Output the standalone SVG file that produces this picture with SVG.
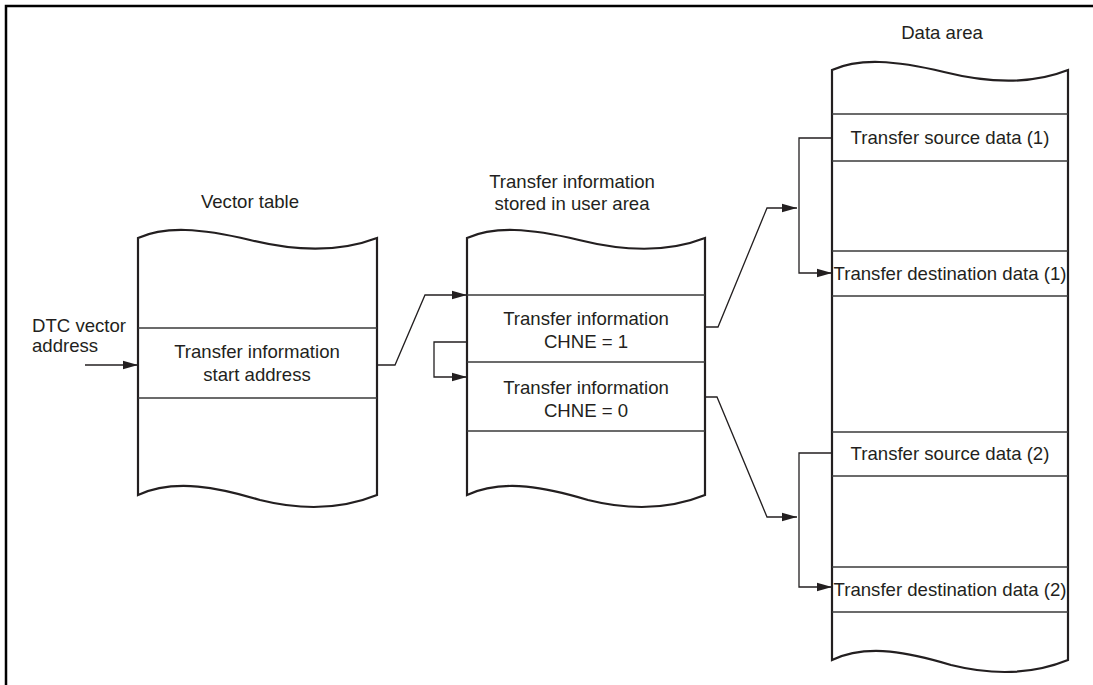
<svg xmlns="http://www.w3.org/2000/svg" width="1093" height="685" viewBox="0 0 1093 685">
<defs>
<marker id="arr" markerUnits="userSpaceOnUse" markerWidth="16" markerHeight="10" refX="15" refY="5" orient="auto">
<path d="M0,0.8 L15,5 L0,9.2 Z" fill="#231f20"/>
</marker>
</defs>
<style>
.box{fill:#fff;stroke:#231f20;stroke-width:2.2;stroke-linejoin:miter}
.row{stroke:#3a3a3a;stroke-width:1.3;fill:none}
.conn{fill:none;stroke:#231f20;stroke-width:1.3}
text{font-family:"Liberation Sans",Arial,sans-serif;font-size:18.6px;fill:#231f20}
.c{text-anchor:middle}
</style>
<rect width="1093" height="685" fill="#fff"/>
<g id="frame">
<path d="M6,685 V6 H1093" fill="none" stroke="#000" stroke-width="2.5"/>
</g>
<g id="vector-table">
<text class="c" x="250" y="208">Vector table</text>
<path class="box" d="M138,238 C165,226 200,228 250,240 C290,250 335,254 377,238 V495 C340,510 300,510 260,500 C220,488 175,478 138,495 Z"/>
<line class="row" x1="138" y1="328" x2="377" y2="328"/>
<line class="row" x1="138" y1="398" x2="377" y2="398"/>
<text class="c" x="257" y="358">Transfer information</text>
<text class="c" x="257" y="381">start address</text>
</g>
<g id="dtc-label">
<text x="32" y="332">DTC vector</text>
<text x="32" y="352">address</text>
</g>
<g id="transfer-info">
<text class="c" x="572" y="188">Transfer information</text>
<text class="c" x="572" y="210">stored in user area</text>
<path class="box" d="M467,238 C494,226 529,228 579,240 C619,250 664,254 705,238 V495 C668,510 628,510 588,500 C548,488 504,478 467,495 Z"/>
<line class="row" x1="467" y1="295" x2="705" y2="295"/>
<line class="row" x1="467" y1="362" x2="705" y2="362"/>
<line class="row" x1="467" y1="431" x2="705" y2="431"/>
<text class="c" x="586" y="325">Transfer information</text>
<text class="c" x="586" y="348">CHNE = 1</text>
<text class="c" x="586" y="394">Transfer information</text>
<text class="c" x="586" y="417">CHNE = 0</text>
</g>
<g id="data-area">
<text class="c" x="942" y="39">Data area</text>
<path class="box" d="M832,70 C859,58 894,60 944,72 C984,82 1028,86 1068,70 V660 C1031,675 991,675 951,665 C911,653 868,643 832,660 Z"/>
<line class="row" x1="832" y1="114" x2="1068" y2="114"/>
<line class="row" x1="832" y1="161" x2="1068" y2="161"/>
<line class="row" x1="832" y1="251" x2="1068" y2="251"/>
<line class="row" x1="832" y1="296" x2="1068" y2="296"/>
<line class="row" x1="832" y1="432" x2="1068" y2="432"/>
<line class="row" x1="832" y1="476" x2="1068" y2="476"/>
<line class="row" x1="832" y1="567" x2="1068" y2="567"/>
<line class="row" x1="832" y1="612" x2="1068" y2="612"/>
<text class="c" x="950" y="144">Transfer source data (1)</text>
<text class="c" x="950" y="280">Transfer destination data (1)</text>
<text class="c" x="950" y="460">Transfer source data (2)</text>
<text class="c" x="950" y="596">Transfer destination data (2)</text>
</g>
<g id="connectors">
<path class="conn" d="M85,365 H138" marker-end="url(#arr)"/>
<path class="conn" d="M377,365 H395 L425,295 H467" marker-end="url(#arr)"/>
<path class="conn" d="M467,342 H434 V377 H467" marker-end="url(#arr)"/>
<path class="conn" d="M705,327 H718 L767,208 H797" marker-end="url(#arr)"/>
<path class="conn" d="M705,397 H717 L767,517 H797" marker-end="url(#arr)"/>
<path class="conn" d="M832,138 H799 V273 H832" marker-end="url(#arr)"/>
<path class="conn" d="M832,453 H799 V587 H832" marker-end="url(#arr)"/>
</g>
</svg>
